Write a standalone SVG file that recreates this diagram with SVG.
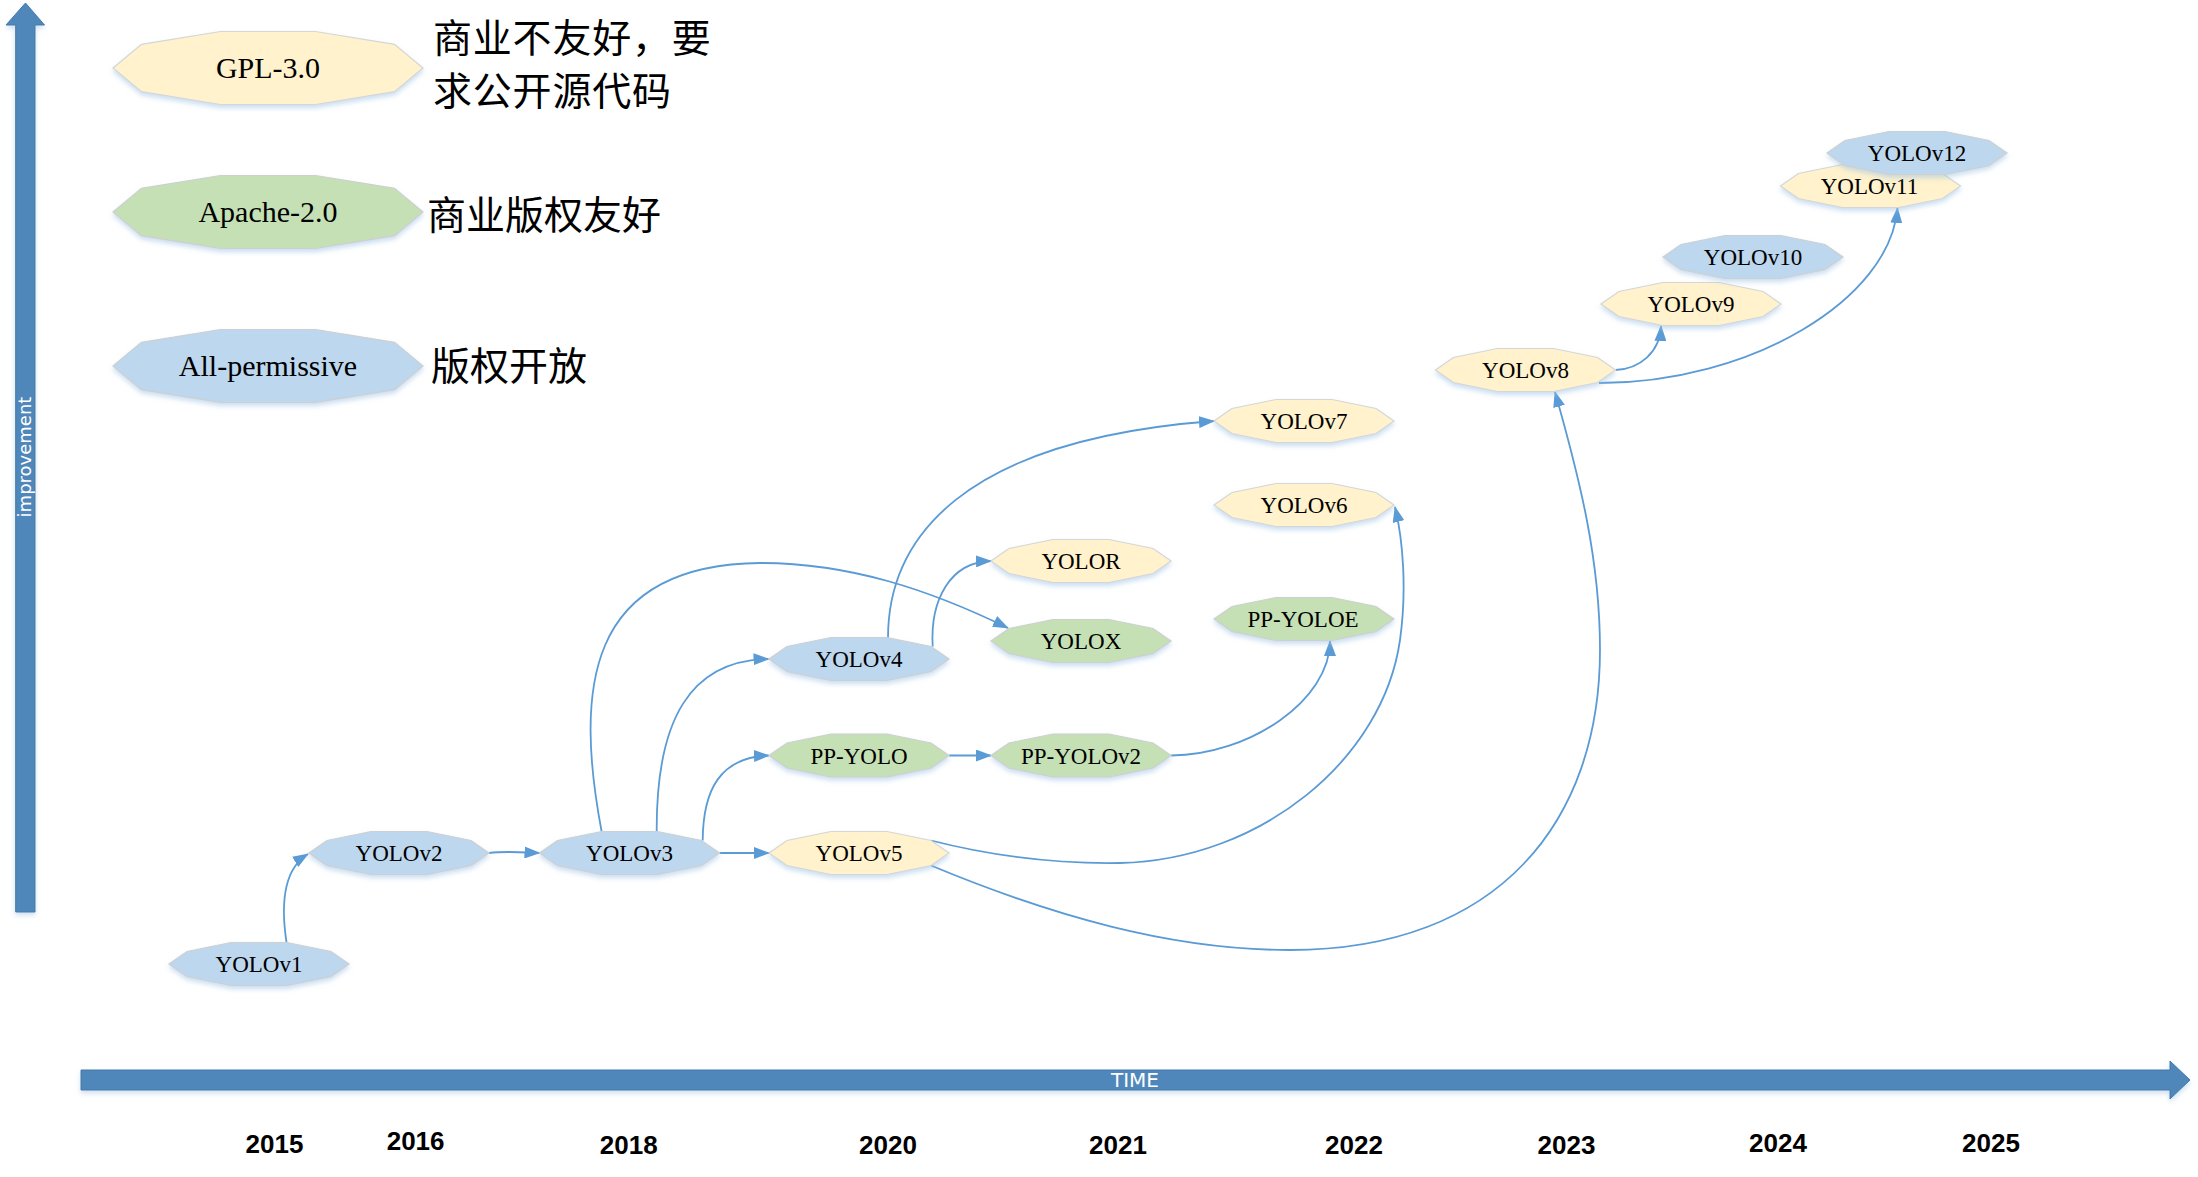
<svg xmlns="http://www.w3.org/2000/svg" xmlns:xlink="http://www.w3.org/1999/xlink" width="2198" height="1177" viewBox="0 0 2198 1177">
<style>
  .blue{fill:#BDD7EE;stroke:#CFCFCF;stroke-width:1.2}
  .yellow{fill:#FFF2CC;stroke:#D6D6D6;stroke-width:1.2}
  .green{fill:#C5E0B4;stroke:#CFCFCF;stroke-width:1.2}
  .lbl{font-family:"Liberation Serif","Times New Roman",serif;font-size:23px;fill:#000;text-anchor:middle}
  .leg{font-family:"Liberation Serif","Times New Roman",serif;font-size:30px;fill:#000;text-anchor:middle}
  .cjk{font-family:"Noto Sans CJK SC","Noto Sans",sans-serif;font-size:39px;fill:#000}
  .year{font-family:"Liberation Sans",Arial,sans-serif;font-size:26px;font-weight:bold;fill:#000;text-anchor:middle}
  .axis{fill:#4F87BA;stroke:#4677A8;stroke-width:1}
  .axlbl{font-family:"DejaVu Sans",sans-serif;fill:#FFFFFF;text-anchor:middle}
  .edge{fill:none;stroke:#5B9BD5;stroke-width:1.8;marker-end:url(#arr)}
</style>
<defs>
  <filter id="sh" x="-20%" y="-30%" width="140%" height="180%">
    <feDropShadow dx="0" dy="3" stdDeviation="2.5" flood-color="#9DC3E6" flood-opacity="0.55"/>
  </filter>
  <filter id="ash" x="-5%" y="-20%" width="110%" height="160%">
    <feDropShadow dx="0" dy="3" stdDeviation="2.5" flood-color="#9DC3E6" flood-opacity="0.5"/>
  </filter>
  <polygon id="oct" points="-90,0 -72,-12.5 -28,-21.5 28,-21.5 72,-12.5 90,0 72,12.5 28,21.5 -28,21.5 -72,12.5"/>
  <polygon id="big" points="-155,0 -126.5,-23.7 -47.5,-36.5 47.5,-36.5 126.5,-23.7 155,0 126.5,23.7 47.5,36.5 -47.5,36.5 -126.5,23.7"/>
  <marker id="arr" viewBox="0 0 16 12" refX="15" refY="6" markerWidth="16" markerHeight="12" markerUnits="userSpaceOnUse" orient="auto">
    <path d="M0,0 L16,6 L0,12 z" fill="#5B9BD5"/>
  </marker>
</defs>
<rect width="2198" height="1177" fill="#FFFFFF"/>

<g id="axes">
  <polygon class="axis" filter="url(#ash)" points="15.7,912 15.7,25 6,25 25.5,3 44.5,25 35,25 35,912"/>
  <text class="axlbl" font-size="18" transform="translate(31,457) rotate(-90)">improvement</text>
  <polygon class="axis" filter="url(#ash)" points="81,1070 2170,1070 2170,1061 2190,1080 2170,1099 2170,1090 81,1090"/>
  <text class="axlbl" font-size="20" x="1135" y="1087">TIME</text>
</g>

<g id="years">
  <text class="year" x="274.5" y="1153">2015</text>
  <text class="year" x="415.6" y="1150">2016</text>
  <text class="year" x="628.7" y="1154">2018</text>
  <text class="year" x="888" y="1154">2020</text>
  <text class="year" x="1118" y="1154">2021</text>
  <text class="year" x="1354" y="1154">2022</text>
  <text class="year" x="1566.5" y="1154">2023</text>
  <text class="year" x="1778" y="1151.5">2024</text>
  <text class="year" x="1991" y="1151.5">2025</text>
</g>

<g id="legend">
  <g id="leg-gpl">
    <use xlink:href="#big" href="#big" x="268" y="68" class="yellow" filter="url(#sh)"/>
    <text class="leg" x="268" y="78">GPL-3.0</text>
    <text class="cjk" font-size="37" letter-spacing="0.8"><tspan x="433" y="52">商业不友好，要</tspan><tspan x="433" y="105">求公开源代码</tspan></text>
  </g>
  <g id="leg-apache">
    <use xlink:href="#big" href="#big" x="268" y="212" class="green" filter="url(#sh)"/>
    <text class="leg" x="268" y="222">Apache-2.0</text>
    <text class="cjk" x="427" y="229">商业版权友好</text>
  </g>
  <g id="leg-allperm">
    <use xlink:href="#big" href="#big" x="268" y="366" class="blue" filter="url(#sh)"/>
    <text class="leg" x="268" y="376">All-permissive</text>
    <text class="cjk" x="431" y="380">版权开放</text>
  </g>
</g>

<g id="connectors">
  <path class="edge" d="M286.6,943 C280,900 285,868 308,854"/>
  <path class="edge" d="M489,853 C505,851 515,852 539.5,853"/>
  <path class="edge" d="M719.5,853 L769,853"/>
  <path class="edge" d="M656.7,832 C656,720 690,660 768.5,659"/>
  <path class="edge" d="M702.7,840.5 C703,790 720,757 769,755.5"/>
  <path class="edge" d="M601.7,832 C575,690 585,565 760,563 C850,563 930,590 1008,628"/>
  <path class="edge" d="M949,755.5 L991,755.5"/>
  <path class="edge" d="M888,638 C888,540 960,440 1214,421"/>
  <path class="edge" d="M932.7,646.5 C930,600 950,562 991,561"/>
  <path class="edge" d="M1171,755.5 C1250,755 1330,700 1330,641"/>
  <path class="edge" d="M931,840.5 C1000,858 1060,864 1120,863 C1260,860 1383,760 1400,640 C1407,590 1403,540 1395,507"/>
  <path class="edge" d="M931,865.5 C1050,915 1170,950 1290,950 C1500,950 1600,820 1600,650 C1600,560 1580,480 1555,392"/>
  <path class="edge" d="M1615.5,370 C1640,369 1660,352 1661,326"/>
  <path class="edge" d="M1599,383 C1750,383 1890,300 1897.5,208"/>
</g>

<g id="nodes">
  <g id="n-yolov1"><use xlink:href="#oct" href="#oct" x="259" y="964" class="blue" filter="url(#sh)"/><text class="lbl" x="259" y="972">YOLOv1</text></g>
  <g id="n-yolov2"><use xlink:href="#oct" href="#oct" x="399" y="853" class="blue" filter="url(#sh)"/><text class="lbl" x="399" y="861">YOLOv2</text></g>
  <g id="n-yolov3"><use xlink:href="#oct" href="#oct" x="629.5" y="853" class="blue" filter="url(#sh)"/><text class="lbl" x="629.5" y="861">YOLOv3</text></g>
  <g id="n-yolov5"><use xlink:href="#oct" href="#oct" x="859" y="853" class="yellow" filter="url(#sh)"/><text class="lbl" x="859" y="861">YOLOv5</text></g>
  <g id="n-ppyolo"><use xlink:href="#oct" href="#oct" x="859" y="755.5" class="green" filter="url(#sh)"/><text class="lbl" x="859" y="763.5">PP-YOLO</text></g>
  <g id="n-yolov4"><use xlink:href="#oct" href="#oct" x="859" y="659" class="blue" filter="url(#sh)"/><text class="lbl" x="859" y="667">YOLOv4</text></g>
  <g id="n-ppyolov2"><use xlink:href="#oct" href="#oct" x="1081" y="755.5" class="green" filter="url(#sh)"/><text class="lbl" x="1081" y="763.5">PP-YOLOv2</text></g>
  <g id="n-yolox"><use xlink:href="#oct" href="#oct" x="1081" y="641" class="green" filter="url(#sh)"/><text class="lbl" x="1081" y="649">YOLOX</text></g>
  <g id="n-yolor"><use xlink:href="#oct" href="#oct" x="1081" y="561" class="yellow" filter="url(#sh)"/><text class="lbl" x="1081" y="569">YOLOR</text></g>
  <g id="n-ppyoloe"><use xlink:href="#oct" href="#oct" x="1304" y="619" class="green" filter="url(#sh)"/><text class="lbl" x="1303" y="627">PP-YOLOE</text></g>
  <g id="n-yolov6"><use xlink:href="#oct" href="#oct" x="1304" y="505" class="yellow" filter="url(#sh)"/><text class="lbl" x="1304" y="513">YOLOv6</text></g>
  <g id="n-yolov7"><use xlink:href="#oct" href="#oct" x="1304" y="421" class="yellow" filter="url(#sh)"/><text class="lbl" x="1304" y="429">YOLOv7</text></g>
  <g id="n-yolov8"><use xlink:href="#oct" href="#oct" x="1525.5" y="370" class="yellow" filter="url(#sh)"/><text class="lbl" x="1525.5" y="378">YOLOv8</text></g>
  <g id="n-yolov9"><use xlink:href="#oct" href="#oct" x="1691" y="304" class="yellow" filter="url(#sh)"/><text class="lbl" x="1691" y="312">YOLOv9</text></g>
  <g id="n-yolov10"><use xlink:href="#oct" href="#oct" x="1753" y="257" class="blue" filter="url(#sh)"/><text class="lbl" x="1753" y="265">YOLOv10</text></g>
  <g id="n-yolov11"><use xlink:href="#oct" href="#oct" x="1870.5" y="186" class="yellow" filter="url(#sh)"/><text class="lbl" x="1869.5" y="194">YOLOv11</text></g>
  <g id="n-yolov12"><use xlink:href="#oct" href="#oct" x="1917" y="153" class="blue" filter="url(#sh)"/><text class="lbl" x="1917" y="161">YOLOv12</text></g>
</g>
</svg>
